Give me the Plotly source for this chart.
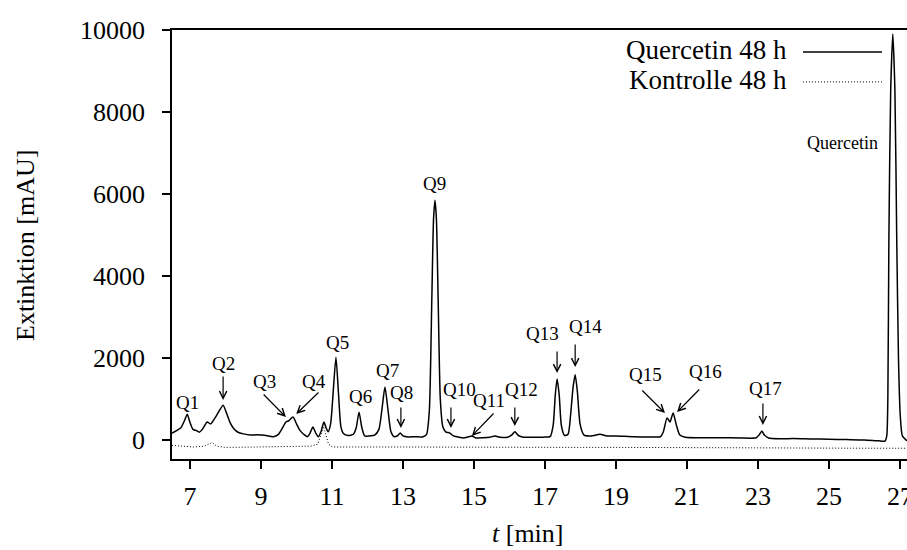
import plotly.graph_objects as go

# HPLC chromatogram: retention time [min] vs. absorbance [mAU]
quercetin_t = [6.49, 6.62, 6.74, 6.84, 6.92, 7.00, 7.08, 7.18, 7.26, 7.36, 7.48, 7.58, 7.68, 7.80,
               7.93, 8.03, 8.13, 8.24, 8.35, 8.50, 8.70, 8.90, 9.10, 9.34, 9.48, 9.60, 9.70, 9.78,
               9.90, 10.00, 10.10, 10.20, 10.30, 10.38, 10.46, 10.54, 10.61, 10.69, 10.77, 10.83,
               10.89, 10.96, 11.03, 11.11, 11.18, 11.25, 11.32, 11.45, 11.60, 11.68, 11.76, 11.84,
               11.92, 12.05, 12.20, 12.32, 12.41, 12.49, 12.57, 12.66, 12.75, 12.85, 12.92, 13.00,
               13.15, 13.35, 13.55, 13.66, 13.74, 13.81, 13.86, 13.90, 13.94, 13.99, 14.05, 14.12,
               14.20, 14.32, 14.42, 14.55, 14.70, 14.85, 14.94, 15.05, 15.25, 15.45, 15.59, 15.75,
               15.95, 16.06, 16.15, 16.25, 16.40, 16.70, 16.95, 17.15, 17.23, 17.29, 17.34, 17.40,
               17.46, 17.55, 17.65, 17.72, 17.79, 17.85, 17.91, 17.99, 18.10, 18.30, 18.55, 18.75,
               19.00, 19.50, 20.00, 20.25, 20.33, 20.44, 20.52, 20.61, 20.70, 20.80, 20.95, 21.50,
               22.00, 22.50, 22.95, 23.04, 23.11, 23.18, 23.30, 23.60, 24.00, 24.50, 25.00, 25.50,
               26.00, 26.40, 26.58, 26.63, 26.66, 26.69, 26.74, 26.80, 26.86, 26.91, 26.96, 27.01,
               27.07, 27.20]
quercetin_mau = [170, 230, 300, 470, 630, 420, 260, 230, 190, 280, 440, 390, 510, 680,
                 850, 650, 420, 270, 190, 150, 120, 130, 115, 80, 130, 290, 440, 470,
                 560, 390, 230, 140, 80, 170, 320, 170, 80, 210, 440, 300,
                 200, 400, 1150, 2020, 1150, 320, 160, 110, 140, 300, 680, 300,
                 100, 100, 120, 260, 780, 1290, 780, 200, 80, 110, 170, 100,
                 75, 80, 75, 130, 700, 3400, 5400, 5850, 5400, 3400, 1000, 330,
                 200, 170, 100, 75, 50, 80, 100, 50, 55, 70, 100, 65,
                 70, 120, 200, 110, 70, 65, 70, 90, 360, 1100, 1490, 1100,
                 360, 110, 140, 600, 1280, 1590, 1200, 380, 120, 100, 140, 100,
                 100, 80, 75, 80, 190, 540, 440, 660, 370, 120, 70, 55,
                 55, 50, 55, 130, 220, 120, 50, 30, 35, 25, 20, 10,
                 0, -20, -25, 100, 1000, 4950, 8500, 9900, 8500, 4950, 2000, 600,
                 100, -20]

control_t = [6.49, 6.80, 7.10, 7.40, 7.62, 7.75, 8.00, 8.50, 9.00, 9.50, 10.00, 10.40, 10.60,
             10.70, 10.76, 10.82, 10.90, 11.00, 11.50, 12.00, 13.00, 14.00, 15.00, 16.00,
             17.00, 18.00, 19.00, 20.00, 21.00, 22.00, 23.00, 24.00, 25.00, 26.00, 27.20]
control_mau = [-130, -150, -170, -150, -60, -150, -180, -175, -170, -165, -160, -150, -100,
               150, 330, 150, -100, -170, -175, -170, -170, -175, -180, -180,
               -175, -180, -180, -185, -185, -190, -190, -195, -200, -200, -200]

# Peak labels: text position, and arrow (tail -> head) where one is drawn
peak_names = ["Q1", "Q2", "Q3", "Q4", "Q5", "Q6", "Q7", "Q8", "Q9",
              "Q10", "Q11", "Q12", "Q13", "Q14", "Q15", "Q16", "Q17"]
label_t = [6.92, 7.93, 9.11, 10.49, 11.14, 11.79, 12.55, 12.97, 13.90,
           14.58, 15.42, 16.35, 16.94, 18.15, 19.82, 21.51, 23.20]
label_mau = [927, 1878, 1439, 1439, 2390, 1073, 1707, 1171, 6268,
             1244, 976, 1244, 2610, 2780, 1610, 1659, 1268]
arrow_tail_t = [None, 7.93, 9.03, 10.66, None, None, None, 12.94, None,
                14.35, 15.59, 16.15, 17.34, 17.85, 19.70, 21.39, 23.14]
arrow_tail_mau = [None, 1585, 1146, 1195, None, None, None, 829, None,
                  829, 683, 829, 2195, 2366, 1244, 1268, 927]
arrow_head_t = [None, 7.93, 9.70, 9.99, None, None, None, 12.94, None,
                14.35, 14.94, 16.15, 17.34, 17.85, 20.38, 20.72, 23.14]
arrow_head_mau = [None, 976, 561, 634, None, None, None, 293, None,
                  293, 98, 341, 1634, 1780, 659, 683, 366]

x_ticks = [7, 9, 11, 13, 15, 17, 19, 21, 23, 25, 27]
y_ticks = [0, 2000, 4000, 6000, 8000, 10000]
y_tick_text = ["0", "2000", "4000", "6000", "8000", "10000"]

FONT = "Liberation Serif"

fig = go.Figure()
fig.add_trace(go.Scatter(x=control_t, y=control_mau, mode="lines", name="Kontrolle 48 h",
                         line=dict(color="black", width=1, dash="1px,2px"),
                         showlegend=False))
fig.add_trace(go.Scatter(x=quercetin_t, y=quercetin_mau, mode="lines", name="Quercetin 48 h",
                         line=dict(color="black", width=1.5, shape="spline", smoothing=0.6),
                         showlegend=False))

annotations = []
for i, name in enumerate(peak_names):
    annotations.append(dict(x=label_t[i], y=label_mau[i], xref="x", yref="y", text=name,
                            showarrow=False, font=dict(family=FONT, size=19, color="black")))
    if arrow_tail_t[i] is not None:
        annotations.append(dict(x=arrow_head_t[i], y=arrow_head_mau[i], xref="x", yref="y",
                                ax=arrow_tail_t[i], ay=arrow_tail_mau[i], axref="x", ayref="y",
                                text="", showarrow=True, arrowhead=5, arrowsize=1.2,
                                arrowwidth=1.2, arrowcolor="black"))

annotations.append(dict(x=25.39, y=7244, xref="x", yref="y", text="Quercetin", showarrow=False,
                        font=dict(family=FONT, size=18, color="black")))

# legend written as text with line samples to the right
annotations += [
    dict(x=0.8395, y=0.953, xref="paper", yref="paper", text="Quercetin 48 h", showarrow=False,
         xanchor="right", yanchor="middle", font=dict(family=FONT, size=27, color="black")),
    dict(x=0.8395, y=0.883, xref="paper", yref="paper", text="Kontrolle 48 h", showarrow=False,
         xanchor="right", yanchor="middle", font=dict(family=FONT, size=27, color="black")),
    dict(x=0.484, y=-0.2121, xref="paper", yref="paper", text="<i>t</i> [min]", showarrow=False,
         xanchor="center", yanchor="bottom", font=dict(family=FONT, size=26, color="black")),
    dict(x=-0.2, y=0.4965, xref="paper", yref="paper", text="Extinktion [mAU]", showarrow=False,
         textangle=-90, xanchor="center", yanchor="middle",
         font=dict(family=FONT, size=26, color="black")),
]

shapes = [
    dict(type="line", xref="paper", yref="paper", x0=0.8585, x1=0.966, y0=0.949, y1=0.949,
         line=dict(color="black", width=1.5)),
    dict(type="line", xref="paper", yref="paper", x0=0.8585, x1=0.966, y0=0.879, y1=0.879,
         line=dict(color="black", width=1, dash="1px,2px")),
]

fig.update_layout(
    width=907, height=550,
    margin=dict(l=172, r=0, t=30, b=91, autoexpand=False),
    paper_bgcolor="white", plot_bgcolor="white",
    font=dict(family=FONT, size=26, color="black"),
    annotations=annotations, shapes=shapes,
    xaxis=dict(range=[6.49, 27.2], tickvals=x_ticks, ticks="outside", ticklen=8, tickwidth=1.5,
               tickcolor="black", showline=True, linewidth=1.5, linecolor="black", mirror=True,
               showgrid=False, zeroline=False, tickfont=dict(family=FONT, size=26),
               ticklabelstandoff=5, ticklabeloverflow="allow"),
    yaxis=dict(range=[-463, 10000], tickvals=y_ticks, ticktext=y_tick_text, ticks="outside",
               ticklen=8, tickwidth=1.5, tickcolor="black", showline=True, linewidth=1.5,
               linecolor="black", mirror=False, showgrid=False, zeroline=False,
               tickfont=dict(family=FONT, size=26), ticklabelstandoff=12),
)

fig.write_html("out.html")
